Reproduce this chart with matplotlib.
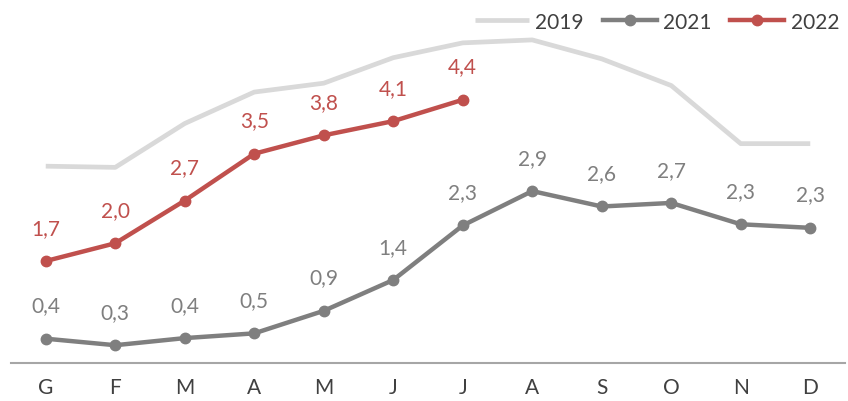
import matplotlib
matplotlib.use("Agg")
import matplotlib.pyplot as plt
import numpy as np

plt.rcParams['font.family'] = ['Lato', 'DejaVu Sans']

mesi = ['G', 'F', 'M', 'A', 'M', 'J', 'J', 'A', 'S', 'O', 'N', 'D']
v2019 = [3.32, 3.30, 4.04, 4.57, 4.72, 5.15, 5.40, 5.45, 5.13, 4.68, 3.70, 3.70]
v2021 = [0.41, 0.30, 0.42, 0.50, 0.88, 1.40, 2.32, 2.90, 2.64, 2.70, 2.34, 2.28]
v2022 = [1.72, 2.02, 2.74, 3.53, 3.84, 4.08, 4.44]

c2019 = '#d9d9d9'
c2021 = '#7f7f7f'
c2022 = '#c0504d'
ctxt = '#404040'

fig = plt.figure(figsize=(8.48, 4.02), dpi=100)
ax = fig.add_axes([11 / 848, 38.0 / 402, 834 / 848, 364.0 / 402])

x = np.arange(len(mesi))
ax.plot(x, v2019, color=c2019, lw=3.4, solid_capstyle='butt', label='2019', zorder=1)
ax.plot(x, v2021, color=c2021, lw=3.2, marker='o', ms=7.5, label='2021', zorder=2)
ax.plot(x[:len(v2022)], v2022, color=c2022, lw=3.2, marker='o', ms=7.5, label='2022', zorder=3)

def etichetta(xs, ys, col):
    for xi, yi in zip(xs, ys):
        ax.annotate(f'{yi:.1f}'.replace('.', ','), (xi, yi), xytext=(0, 24),
                    textcoords='offset points', ha='center', va='center',
                    fontsize=15, color=col)

etichetta(x, v2021, c2021)
etichetta(x[:len(v2022)], v2022, c2022)

ax.set_xlim(-0.5, 11.5)
ax.set_ylim(0, 6.14)
ax.set_xticks(x)
ax.set_xticklabels(mesi, fontsize=15, color=ctxt)
ax.set_yticks([])
ax.tick_params(axis='x', length=0, pad=10)
for s in ['top', 'right', 'left']:
    ax.spines[s].set_visible(False)
ax.spines['bottom'].set_color('#a6a6a6')
ax.spines['bottom'].set_linewidth(1.5)

leg = ax.legend(loc='upper right', bbox_to_anchor=(1.008, 1.0), ncol=3, frameon=False,
                fontsize=15, handlelength=2.6, handletextpad=0.3, columnspacing=0.9,
                borderaxespad=0.2)
for t in leg.get_texts():
    t.set_color(ctxt)

fig.savefig('out.png', dpi=100)
